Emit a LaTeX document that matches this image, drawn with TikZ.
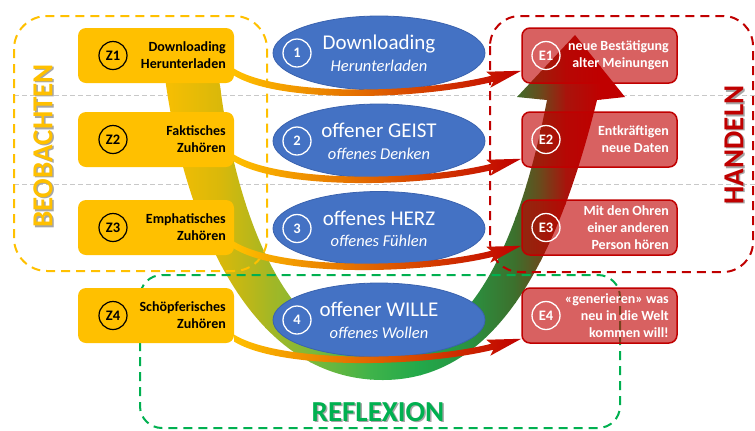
\documentclass[tikz,border=0pt]{standalone}
\usepackage{fontspec}
\setmainfont{Carlito}
\usetikzlibrary{shapes.geometric,calc}
\definecolor{zgold}{HTML}{FFC000}
\definecolor{ered}{HTML}{C00000}
\definecolor{rgreen}{HTML}{00B050}
\definecolor{eblue}{HTML}{4472C4}
\definecolor{eblueline}{HTML}{3A62AE}
\definecolor{grayline}{HTML}{C8C8C8}
\definecolor{shadowgray}{HTML}{A6A6A6}
\definecolor{aorange}{HTML}{E68200}
\definecolor{g0}{HTML}{FFC000}
\definecolor{g1}{HTML}{D9B80A}
\definecolor{g2}{HTML}{A9B722}
\definecolor{g3}{HTML}{7DB93A}
\definecolor{g4}{HTML}{3FB34A}
\definecolor{g5}{HTML}{22A84A}
\definecolor{g6}{HTML}{2A9140}
\definecolor{g7}{HTML}{3D6F2C}
\definecolor{g8}{HTML}{6A4A1C}
\definecolor{g9}{HTML}{A8140C}
\definecolor{g10}{HTML}{C00000}
\begin{document}
\begin{tikzpicture}[x=1bp,y=-1bp,
  gridline/.style={grayline, line width=1bp, dash pattern=on 5bp off 3bp},
  region/.style={line width=2bp, dash pattern=on 9bp off 6bp},
  zbox/.style={fill=zgold, rounded corners=8bp, minimum width=156bp, minimum height=55bp, inner sep=0pt},
  ebox/.style={fill=ered, fill opacity=0.62, draw=ered, draw opacity=1, line width=1.5bp, rounded corners=8bp, minimum width=155bp, minimum height=55bp, inner sep=0pt},
  zcirc/.style={circle, draw=black, line width=1.2bp, minimum size=28bp, inner sep=0pt, font=\fontsize{14.5bp}{16bp}\selectfont\bfseries},
  wcirc/.style={circle, draw=white, line width=1.3bp, minimum size=28bp, inner sep=0pt, text=white, font=\fontsize{14.5bp}{16bp}\selectfont\bfseries},
  ztext/.style={anchor=east, align=right, inner sep=0pt, font=\fontsize{14bp}{16.8bp}\selectfont\bfseries},
  etext/.style={anchor=east, align=right, inner sep=0pt, text=white, font=\fontsize{14bp}{16.8bp}\selectfont\bfseries},
  ell/.style={ellipse, fill=eblue, draw=eblueline, line width=0.8bp, minimum width=212bp, minimum height=74bp, inner sep=0pt},
  elmain/.style={anchor=base, inner sep=0pt, text=white, font=\fontsize{21bp}{24bp}\selectfont},
  elsub/.style={anchor=base, inner sep=0pt, text=white, font=\fontsize{16.5bp}{19bp}\selectfont\itshape},
  biglabel/.style={inner sep=0pt, font=\fontsize{29bp}{32bp}\selectfont\bfseries}
]
\useasboundingbox (0,0) rectangle (755,430);

% grid lines
\draw[gridline] (14,95) -- (755,95);
\draw[gridline] (14,184) -- (755,184);

% big U arrow
\begin{scope}
\clip (164,70) .. controls (180,200) and (240,380) .. (383,380)
  .. controls (500,380) and (560,250) .. (597,100)
  -- (625,97) -- (575,35) -- (517,97) -- (547,100)
  .. controls (520,240) and (470,352) .. (383,352)
  .. controls (290,352) and (235,220) .. (218,70) -- cycle;
\foreach \xa/\xb/\ca/\cb in {150/220/g0/g1, 220/265/g1/g2, 265/310/g2/g3, 310/370/g3/g4, 370/420/g4/g5, 420/470/g5/g6, 470/515/g6/g7, 515/540/g7/g8, 540/565/g8/g9, 565/600/g9/g10, 600/640/g10/g10}
  \shade[left color=\ca, right color=\cb] (\xa,0) rectangle (\xb+1,430);
\end{scope}

% regions
\draw[region, zgold, rounded corners=33bp] (14,16) rectangle (267,271);
\draw[region, ered, rounded corners=30bp] (490,16) rectangle (753,272);
\draw[region, rgreen, rounded corners=22bp] (140,275) rectangle (620,428);

% Z boxes
\foreach \i/\cy/\txt in {1/55.5/{Downloading\\Herunterladen}, 2/139.5/{Faktisches\\Zuhören}, 3/227.5/{Emphatisches\\Zuhören}, 4/315.5/{Schöpferisches\\Zuhören}}{
  \node[zbox] (z\i) at (156,\cy) {};
  \node[zcirc] (z\i c) at (113,\cy) {Z\i};
  \node[ztext] (z\i t) at (226,\cy) {\txt};
}

% ellipses
\foreach \i/\cy/\ta/\tb in {1/53/Downloading/Herunterladen, 2/141/offener GEIST/offenes Denken, 3/228.5/offenes HERZ/offenes Fühlen, 4/320/offener WILLE/offenes Wollen}{
  \node[ell] (el\i) at (379,\cy) {};
  \node[wcirc] (el\i c) at (297,\cy) {\i};
  \node[elmain] (el\i a) at ($(el\i.center)+(0,-3.5)$) {\ta};
  \node[elsub] (el\i b) at ($(el\i.center)+(0,18)$) {\tb};
}

% E boxes
\foreach \i/\cy/\txt in {1/55.5/{neue Bestätigung\\alter Meinungen}, 2/139.5/{Entkräftigen\\neue Daten}, 3/227.5/{Mit den Ohren\\einer anderen\\Person hören}, 4/315.5/{«generieren» was\\neu in die Welt\\kommen will!}}{
  \node[ebox] (e\i) at (599.5,\cy) {};
  \node[wcirc] (e\i c) at (546,\cy) {E\i};
  \node[etext] (e\i t) at (669,\cy) {\txt};
}

% small arrows Z -> E
\foreach \i/\dz/\de in {1/11/13, 2/9/9, 3/10/10, 4/5/5}{
  \coordinate (a\i) at ([yshift=\dz bp]z\i.south east);
  \coordinate (b\i) at ([yshift=\de bp]e\i.south west);
  \shade[left color=zgold, middle color=aorange, right color=ered]
    ($(a\i)+(0,-3.5)$) .. controls ($(a\i)+(46,24.5)$) and ($(b\i)+(-102,23)$) .. ($(b\i)+(-30,5)$)
    -- ($(b\i)+(-35,1)$) -- (b\i) -- ($(b\i)+(-31,17)$) -- ($(b\i)+(-28,11)$)
    .. controls ($(b\i)+(-102,29)$) and ($(a\i)+(46,31.5)$) .. ($(a\i)+(0,3.5)$) -- cycle;
}

% labels
\node[biglabel, text=shadowgray, rotate=90] (beobs) at (44.5,147.5) {BEOBACHTEN};
\node[biglabel, text=zgold, rotate=90] (beob) at (43,146) {BEOBACHTEN};
\node[biglabel, text=shadowgray, rotate=90] (hands) at (735.5,146.5) {HANDELN};
\node[biglabel, text=ered, rotate=90] (hand) at (734,145) {HANDELN};
\node[biglabel, text=shadowgray] (refls) at (379.5,413.5) {REFLEXION};
\node[biglabel, text=rgreen] (refl) at (378,412) {REFLEXION};
\end{tikzpicture}
\end{document}
